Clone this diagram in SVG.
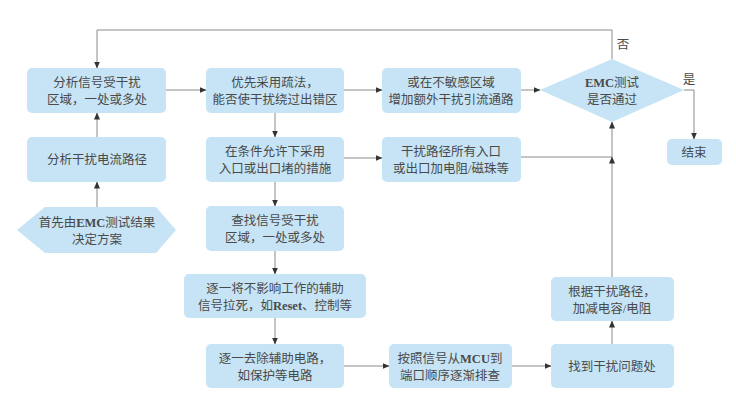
<svg xmlns="http://www.w3.org/2000/svg" width="736" height="402" viewBox="0 0 736 402">
<defs>
<marker id="ah" markerWidth="7" markerHeight="6" refX="6.5" refY="3" orient="auto" markerUnits="userSpaceOnUse">
<path d="M0,0 L7,3 L0,6 Z" fill="#333"/>
</marker>
<style>
.box{fill:#c6e4f5;}
.t{font-family:"Liberation Serif","Noto Sans CJK SC",serif;font-size:12.5px;fill:#4a4a4a;text-anchor:middle;}
.c{fill:none;stroke:#8a8a8a;stroke-width:1;marker-end:url(#ah);}
.n{fill:none;stroke:#8a8a8a;stroke-width:1;}
</style>
</defs>
<rect width="736" height="402" fill="#ffffff"/>
<g id="connectors">
<path class="c" d="M612,59 V30 H97 V68"/>
<path class="c" d="M97,207 V182"/>
<path class="c" d="M97,137 V113"/>
<path class="c" d="M166,90 H206"/>
<path class="c" d="M344,90 H382"/>
<path class="c" d="M521,90 H540"/>
<path class="c" d="M684,90 H694 V139"/>
<path class="c" d="M275,113 V137"/>
<path class="c" d="M344,158 H382"/>
<path class="n" d="M521,157 H612"/>
<path class="c" d="M612,277 V157"/>
<path class="c" d="M612,157 V122"/>
<path class="c" d="M275,182 V206"/>
<path class="c" d="M275,251 V274"/>
<path class="c" d="M275,318 V344"/>
<path class="c" d="M344,366 H389"/>
<path class="c" d="M512,366 H551"/>
<path class="c" d="M612,344 V321"/>
</g>
<g id="start">
<polygon class="box" points="45,207 156,207 176,230 156,253 45,253 17,230"/>
<text class="t" x="97" y="227">首先由<tspan font-weight="bold">EMC</tspan>测试结果</text>
<text class="t" x="97" y="244">决定方案</text>
</g>
<g id="analyze-path">
<rect class="box" x="27" y="137" width="139" height="45" rx="5"/>
<text class="t" x="97" y="164">分析干扰电流路径</text>
</g>
<g id="analyze-region">
<rect class="box" x="27" y="68" width="139" height="45" rx="5"/>
<text class="t" x="97" y="87">分析信号受干扰</text>
<text class="t" x="97" y="104">区域，一处或多处</text>
</g>
<g id="prefer-bypass">
<rect class="box" x="206" y="68" width="138" height="45" rx="5"/>
<text class="t" x="275" y="87">优先采用疏法，</text>
<text class="t" x="275" y="104">能否使干扰绕过出错区</text>
</g>
<g id="extra-path">
<rect class="box" x="382" y="68" width="139" height="45" rx="5"/>
<text class="t" x="451" y="87">或在不敏感区域</text>
<text class="t" x="451" y="104">增加额外干扰引流通路</text>
</g>
<g id="decision">
<polygon class="box" points="612,59 684,90 612,122 540,90"/>
<text class="t" x="612" y="87"><tspan font-weight="bold">EMC</tspan>测试</text>
<text class="t" x="612" y="104">是否通过</text>
<text class="t" x="623" y="49">否</text>
<text class="t" x="689" y="84">是</text>
</g>
<g id="end">
<rect class="box" x="667" y="139" width="55" height="26" rx="5"/>
<text class="t" x="694" y="157">结束</text>
</g>
<g id="block-entry">
<rect class="box" x="206" y="137" width="138" height="45" rx="5"/>
<text class="t" x="275" y="156">在条件允许下采用</text>
<text class="t" x="275" y="173">入口或出口堵的措施</text>
</g>
<g id="add-resistor">
<rect class="box" x="382" y="137" width="139" height="45" rx="5"/>
<text class="t" x="451" y="156">干扰路径所有入口</text>
<text class="t" x="451" y="173">或出口加电阻/磁珠等</text>
</g>
<g id="find-region">
<rect class="box" x="206" y="206" width="138" height="45" rx="5"/>
<text class="t" x="275" y="225">查找信号受干扰</text>
<text class="t" x="275" y="242">区域，一处或多处</text>
</g>
<g id="tie-signals">
<rect class="box" x="184" y="274" width="182" height="44" rx="5"/>
<text class="t" x="275" y="293">逐一将不影响工作的辅助</text>
<text class="t" x="275" y="310">信号拉死，如<tspan font-weight="bold">Reset</tspan>、控制等</text>
</g>
<g id="remove-aux">
<rect class="box" x="206" y="344" width="138" height="44" rx="5"/>
<text class="t" x="275" y="363">逐一去除辅助电路，</text>
<text class="t" x="275" y="380">如保护等电路</text>
</g>
<g id="check-mcu">
<rect class="box" x="389" y="344" width="123" height="44" rx="5"/>
<text class="t" x="450" y="363">按照信号从<tspan font-weight="bold">MCU</tspan>到</text>
<text class="t" x="450" y="380">端口顺序逐渐排查</text>
</g>
<g id="find-problem">
<rect class="box" x="551" y="344" width="123" height="44" rx="5"/>
<text class="t" x="612" y="371">找到干扰问题处</text>
</g>
<g id="adjust-rc">
<rect class="box" x="551" y="277" width="123" height="44" rx="5"/>
<text class="t" x="612" y="296">根据干扰路径，</text>
<text class="t" x="612" y="313">加减电容/电阻</text>
</g>
</svg>
